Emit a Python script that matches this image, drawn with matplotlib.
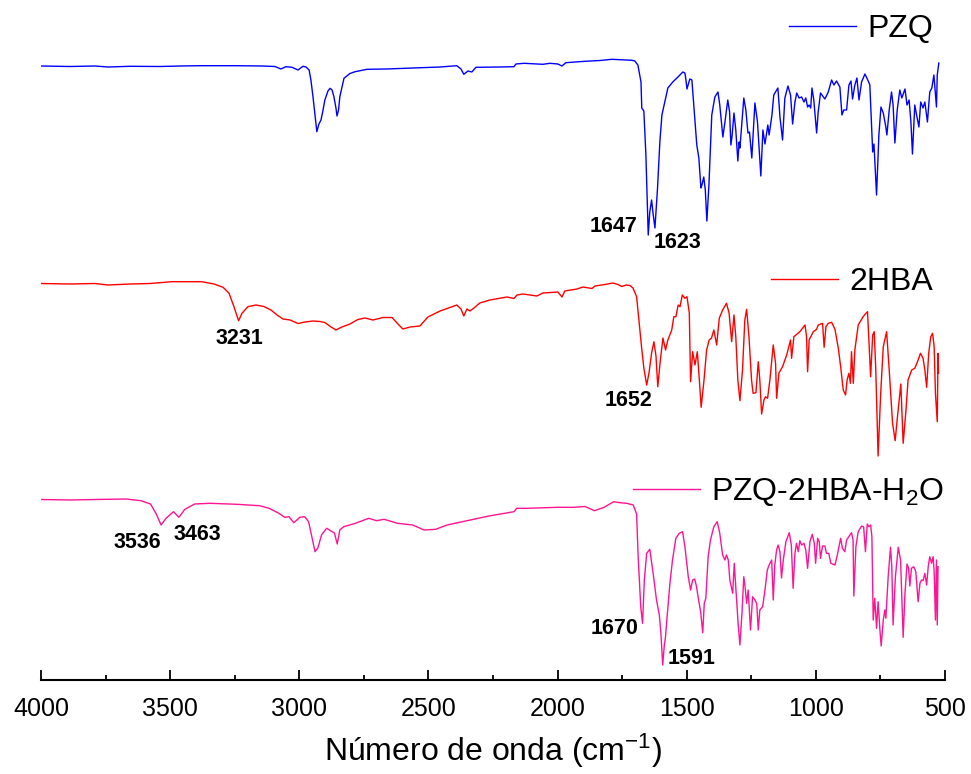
import matplotlib
matplotlib.use("Agg")
import matplotlib.pyplot as plt
from matplotlib.ticker import MultipleLocator
from matplotlib.lines import Line2D

plt.rcParams['font.family'] = ['Liberation Sans', 'DejaVu Sans']
plt.rcParams['mathtext.fontset'] = 'custom'
plt.rcParams['mathtext.rm'] = 'Liberation Sans'
plt.rcParams['mathtext.it'] = 'Liberation Sans:italic'

# ---------------- data (wavenumber in cm-1, transmittance in a.u.) ----------------
pzq_wn = [4000, 3888, 3791, 3741, 3655, 3539, 3462, 3384, 3249, 3144, 3094, 3071, 3052, 3028,
          3005, 2986, 2974, 2962, 2955, 2947, 2939, 2932, 2924, 2916, 2908, 2901, 2889, 2881,
          2873, 2866, 2858, 2854, 2848, 2843, 2827, 2804, 2784, 2738, 2664, 2560, 2455, 2390,
          2374, 2363, 2347, 2332, 2316, 2223, 2169, 2161, 2130, 2057, 2030, 1999, 1983, 1968,
          1894, 1836, 1790, 1739, 1712, 1701, 1689, 1677, 1674, 1666, 1658, 1649, 1643, 1636,
          1631, 1623, 1613, 1604, 1596, 1585, 1573, 1554, 1534, 1515, 1507, 1503, 1499, 1488,
          1480, 1472, 1461, 1453, 1445, 1441, 1434, 1428, 1422, 1414, 1403, 1391, 1379, 1372,
          1360, 1352, 1341, 1334, 1329, 1324, 1317, 1310, 1302, 1297, 1294, 1286, 1279, 1271,
          1263, 1257, 1248, 1236, 1226, 1213, 1205, 1197, 1186, 1181, 1170, 1163, 1147, 1139,
          1129, 1120, 1108, 1098, 1090, 1081, 1074, 1065, 1055, 1046, 1039, 1032, 1026, 1020,
          1015, 1008, 997, 991, 982, 965, 952, 939, 930, 920, 907, 899, 892, 881, 872, 864,
          858, 849, 841, 833, 823, 810, 799, 791, 780, 775, 765, 756, 748, 739, 729, 725, 716,
          707, 701, 694, 685, 675, 667, 655, 647, 639, 632, 626, 617, 610, 601, 594, 585, 578,
          568, 559, 551, 543, 533, 530, 524]
pzq_t = [234, 233.5, 234, 233, 233.7, 233.5, 234, 234.3, 234.3, 234, 233.5, 231, 233.3, 232.7,
         230, 233.7, 233, 230, 220, 203.3, 185, 168.3, 176, 180, 190, 200, 209, 211.7,
         210, 203.3, 192, 184, 190, 203.3, 221.7, 226.5, 228.3, 230.7, 231, 232, 233, 234.3,
         231, 225.7, 229, 228, 232.7, 233, 233.3, 236, 236.7, 235.7, 236.7, 236, 234, 237.3,
         238.7, 239.5, 240.7, 240, 239.7, 239, 235, 218, 192, 189, 145, 65, 88, 100,
         88, 72, 112, 158, 185, 198, 212, 218, 223, 228, 227, 220, 211, 221,
         220, 192, 155, 142, 112, 115, 123, 110, 79, 115, 185, 203, 208, 195,
         163, 178, 200, 188, 155, 165, 187, 170, 139, 158, 152, 178, 202, 190,
         167, 168, 142, 197, 178, 124, 170, 156, 175, 165, 185, 205, 212, 183,
         160, 202, 214, 205, 176, 198, 207, 202, 203, 198, 202, 193, 195, 192,
         212, 200, 167, 188, 207, 201, 208, 220, 215, 219, 213, 185, 190, 190, 215, 219,
         201, 215, 222, 200, 218, 226, 220, 215, 148, 156, 105, 165, 193, 187, 173, 165, 190,
         208, 195, 157, 190, 210, 202, 211, 195, 200, 178, 146, 195, 185, 173, 198, 192, 198,
         178, 208, 212, 225, 193, 225, 237]

hba_wn = [4000, 3888, 3791, 3741, 3655, 3578, 3493, 3377, 3330, 3295, 3272, 3253, 3235, 3222,
          3199, 3168, 3137, 3110, 3086, 3063, 3036, 3005, 2978, 2947, 2920, 2901, 2877, 2858,
          2835, 2804, 2773, 2746, 2715, 2676, 2641, 2618, 2599, 2571, 2533, 2502, 2455, 2390,
          2374, 2363, 2351, 2339, 2324, 2301, 2262, 2196, 2169, 2157, 2134, 2080, 2057, 1999,
          1983, 1972, 1925, 1902, 1867, 1855, 1817, 1786, 1766, 1751, 1735, 1720, 1708, 1694,
          1685, 1675, 1666, 1655, 1646, 1636, 1627, 1619, 1612, 1602, 1592, 1582, 1573, 1558,
          1550, 1542, 1533, 1526, 1517, 1507, 1499, 1490, 1485, 1477, 1468, 1459, 1452, 1444,
          1433, 1423, 1413, 1404, 1395, 1384, 1374, 1361, 1346, 1336, 1326, 1317, 1310, 1302,
          1294, 1284, 1275, 1268, 1259, 1249, 1243, 1232, 1223, 1217, 1210, 1201, 1195, 1187,
          1178, 1165, 1156, 1152, 1143, 1129, 1113, 1098, 1094, 1085, 1062, 1042, 1036, 1032,
          1026, 1010, 997, 991, 974, 968, 961, 952, 939, 926, 913, 904, 894, 885, 879, 872,
          866, 862, 855, 849, 836, 817, 806, 800, 794, 788, 780, 774, 768, 759, 749, 739, 726,
          716, 703, 693, 684, 671, 662, 651, 643, 629, 617, 604, 595, 585, 578, 571, 563, 555,
          548, 542, 537, 530, 527, 525]
hba_t = [216.5, 216, 216.5, 215, 216, 216.5, 218.3, 218.3, 216, 212.7, 206.7, 193.3, 179.3, 186.7,
         193.3, 195, 193.5, 190, 185, 181, 180, 176.5, 178, 179, 178.5, 177.5, 173, 170,
         173, 176, 180.5, 182, 180, 182.5, 182.5, 176, 171, 173, 174, 183, 189, 195,
         191, 184, 191, 189, 192, 197, 200, 203, 201.5, 205, 206, 204, 207, 208,
         203, 209, 211, 213, 211.5, 214, 215.5, 217, 215.5, 213.5, 215, 214.5, 212, 203.3,
         180, 153.3, 132, 115, 127, 147, 158.3, 144, 113.3, 140, 162, 150, 160, 170,
         183.3, 183.3, 195, 193.3, 205, 201.7, 203.3, 187, 118.3, 148.3, 135, 148.3, 123.3, 92.7,
         120, 150, 160, 162, 170, 155, 181.7, 190, 196.7, 187, 158.3, 185, 163.3, 120,
         99.3, 130, 180, 190.7, 163.3, 120, 106.7, 107.3, 138.3, 120, 86, 100, 103.3, 101.7,
         120, 155, 136.7, 101.7, 127, 133.3, 145, 160, 141.7, 163.3, 168.3, 175, 163.3, 128.3,
         160, 168.3, 170.7, 175, 176.7, 152.7, 173.3, 176.7, 177.7, 170.7, 151.7, 133.3, 110, 105, 120, 126.7,
         116.7, 148.3, 116.7, 150, 175, 183.3, 186.7, 188.3, 156.7, 123.3, 165, 168.3, 130, 44, 106.7, 153.3, 168.3,
         130, 76.7, 59.3, 83.3, 116, 56.7, 90, 120, 130, 131.7, 140, 146.7, 141.7, 130, 112.7, 147, 163.3,
         166.7, 153.3, 106.7, 78.3, 146.7, 127]

mix_wn = [4000, 3888, 3791, 3671, 3613, 3576, 3555, 3535, 3516, 3487, 3466, 3443, 3405, 3346,
          3242, 3154, 3117, 3079, 3057, 3040, 3021, 2998, 2979, 2964, 2949, 2939, 2928, 2914,
          2894, 2877, 2864, 2853, 2843, 2828, 2783, 2731, 2701, 2672, 2620, 2561, 2517, 2472,
          2428, 2339, 2266, 2169, 2158, 2117, 1999, 1939, 1894, 1857, 1820, 1783, 1759, 1732,
          1707, 1694, 1688, 1678, 1671, 1664, 1655, 1643, 1630, 1617, 1606, 1600, 1593, 1587,
          1582, 1576, 1565, 1555, 1542, 1529, 1516, 1507, 1494, 1485, 1477, 1469, 1462, 1454,
          1446, 1438, 1432, 1426, 1417, 1408, 1395, 1382, 1372, 1361, 1352, 1346, 1339, 1333,
          1322, 1316, 1307, 1301, 1294, 1286, 1279, 1274, 1268, 1262, 1253, 1245, 1236, 1229,
          1223, 1217, 1206, 1197, 1188, 1181, 1171, 1165, 1159, 1152, 1146, 1139, 1133, 1126,
          1116, 1103, 1095, 1088, 1081, 1075, 1068, 1062, 1055, 1046, 1039, 1032, 1023, 1014,
          1006, 1001, 993, 987, 982, 974, 965, 959, 950, 942, 926, 917, 904, 897, 888, 881,
          868, 862, 856, 853, 845, 836, 823, 815, 808, 801, 795, 788, 783, 778, 772, 765, 759,
          752, 747, 739, 733, 729, 720, 711, 706, 701, 692, 681, 672, 662, 655, 647, 641, 636,
          630, 621, 613, 604, 597, 591, 585, 578, 571, 565, 559, 552, 546, 542, 537, 533, 530, 527]
mix_t = [200.5, 200, 200.5, 201, 199.3, 196, 186.7, 175, 181.7, 188.3, 182.7, 190.7, 196, 196.7,
         195.7, 194.3, 191.7, 186.7, 182.7, 183.3, 177.3, 182.7, 183.3, 178.3, 160, 148.3, 152, 165,
         171.7, 169, 167, 156, 170, 173.3, 176.7, 181.7, 179.3, 180.7, 176.7, 175, 170, 170.7,
         175, 180, 184, 188.3, 191.7, 191.7, 192.7, 192.7, 193.5, 189.3, 192.7, 198.3, 197.3, 196.7,
         195, 186, 143.3, 93.3, 76.7, 120, 146.7, 150.7, 126.7, 100, 85, 67, 35, 54,
         63.3, 83.3, 116.7, 140, 161.7, 166.7, 168.3, 153.3, 123.3, 110, 120, 121, 113.3, 100,
         88, 67.3, 96.7, 101.7, 143.3, 160, 173.3, 178.3, 166.7, 145, 140, 145, 140, 120,
         106.7, 136.7, 100, 76.7, 55, 87, 123.3, 113.3, 96.7, 110, 70, 103.3, 100, 96.7,
         70, 90, 93.3, 110, 130, 135, 140, 100, 135, 150, 155, 148, 122, 140,
         158.3, 167.3, 155, 111.7, 146.7, 156.7, 148.3, 159.3, 155, 156.7, 150, 131.7, 158.3, 165.7,
         156.7, 136.7, 161.7, 158.3, 141.7, 154, 154, 146.7, 146.7, 136.7, 135, 145, 161.7, 151.7, 148.3, 160,
         165, 167.3, 160, 104, 153.3, 168.3, 174, 173, 148.3, 176, 173.3, 175, 163.3, 80, 101.7, 71.7, 98.3,
         70, 54, 80, 90, 81.7, 123.3, 152.7, 133.3, 75, 123.3, 152.7, 140, 62.7, 106.7, 136, 131.7, 114,
         131.7, 133.3, 128.3, 98.3, 116.7, 120, 119.3, 126.7, 115, 133.3, 143.3, 136.7, 143.3, 128.3, 80, 140, 75, 133.3]

series_labels = ['PZQ', '2HBA', r'PZQ-2HBA-H$_\mathregular{2}$O']
series_colors = ['#0000FF', '#FF0000', '#FF1493']
series_offsets = [300, 500, 700]

peak_labels = ['1647', '1623', '3231', '1652', '3536', '3463', '1670', '1591']
peak_x = [1782, 1534, 3233, 1724, 3628, 3396, 1778, 1480]
peak_y = [-227, -242, -339, -401, -543, -534, -628, -659]

xticks = [4000, 3500, 3000, 2500, 2000, 1500, 1000, 500]

# ---------------- figure ----------------
fig = plt.figure(figsize=(9.71, 7.74), dpi=100)
ax = fig.add_axes([41/971, 94/774, (945-41)/971, 680/774])

spectra = [(pzq_wn, pzq_t), (hba_wn, hba_t), (mix_wn, mix_t)]
lines = []
for (wn, t), col, off in zip(spectra, series_colors, series_offsets):
    ln, = ax.plot(wn, [v - off for v in t], color=col, lw=1.0)
    lines.append(ln)

ax.set_xlim(4000, 500)
ax.set_ylim(-680, 0)
for s in ['left', 'right', 'top']:
    ax.spines[s].set_visible(False)
ax.spines['bottom'].set_linewidth(1.5)
ax.set_yticks([])
ax.set_xticks(xticks)
ax.xaxis.set_minor_locator(MultipleLocator(250))
ax.tick_params(axis='x', which='major', direction='in', length=7, width=1.3,
               labelsize=18, pad=12)
ax.tick_params(axis='x', which='minor', direction='in', length=3.5, width=1.3)
ax.set_xlabel(r'Número de onda (cm$^{\mathregular{-1}}$)', fontsize=23, labelpad=8)

for lab, px, py in zip(peak_labels, peak_x, peak_y):
    ax.text(px, py, lab, fontsize=15.5, fontweight='bold', ha='center', va='center')

leg_anchor = [(933/971, 1 - 29/774), (933/971, 1 - 282/774), (944/971, 1 - 492/774)]
for ln, lab, anc, col in zip(lines, series_labels, leg_anchor, series_colors):
    h = Line2D([], [], color=col, lw=1.0)
    fig.legend([h], [lab], loc='center right', bbox_to_anchor=anc,
               bbox_transform=fig.transFigure, frameon=False, fontsize=23,
               handlelength=2.1, handletextpad=0.35, borderpad=0, borderaxespad=0)

fig.savefig('out.png', dpi=100)
